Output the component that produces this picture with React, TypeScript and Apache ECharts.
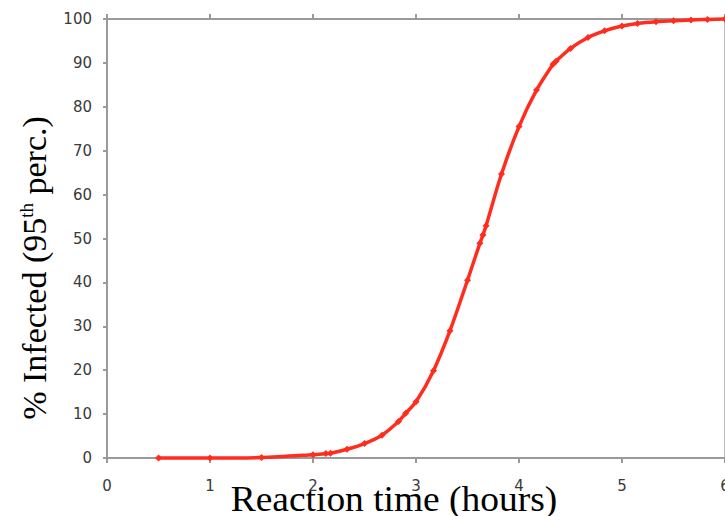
import React, { useEffect, useRef } from "react";
import * as echarts from "echarts";

const times = [0.5, 1.0, 1.5, 2.0, 2.125, 2.17, 2.33, 2.5, 2.67, 2.83, 2.9, 3.0, 3.17, 3.33, 3.5, 3.62, 3.65, 3.68, 3.83, 4.0, 4.17, 4.33, 4.36, 4.5, 4.67, 4.83, 5.0, 5.15, 5.33, 5.5, 5.67, 5.83, 6.0];
const infected = [0, 0, 0.1, 0.75, 1.0, 1.1, 2.0, 3.3, 5.2, 8.3, 10.2, 12.8, 19.9, 29, 40.5, 48.9, 50.8, 52.9, 64.7, 75.5, 83.8, 89.7, 90.4, 93.3, 95.8, 97.3, 98.4, 99.0, 99.4, 99.6, 99.8, 99.9, 100];
const xTitle = "Reaction time (hours)";
const yTitleParts = ["% Infected (95", "th", " perc.)"];

const axisGray = "#9a9a9a";
const labelStyle = { fontFamily: "DejaVu Sans", fontSize: 15, color: "#3a3a3a" };

export default function App() {
  const ref = useRef<HTMLDivElement>(null);
  useEffect(() => {
    document.body.style.margin = "0";
    const chart = echarts.init(ref.current!, null, { renderer: "svg" });
    const data = times.map((t, i) => [t, infected[i]]);
    chart.setOption({
      animation: false,
      backgroundColor: "#ffffff",
      grid: { left: 107, top: 19, right: 0, bottom: 58, outerBoundsMode: "none", containLabel: false },
      xAxis: [
        {
          type: "value", min: 0, max: 6, interval: 1, position: "bottom",
          axisLine: { show: true, onZero: false, lineStyle: { color: axisGray, width: 2 } },
          axisTick: { show: true, inside: false, length: 5, lineStyle: { color: axisGray, width: 2 } },
          axisLabel: { ...labelStyle, margin: 20 },
          splitLine: { show: false },
        },
        {
          type: "value", min: 0, max: 6, interval: 1, position: "top",
          axisLine: { show: true, onZero: false, lineStyle: { color: axisGray, width: 2 } },
          axisTick: { show: true, inside: false, length: 5, lineStyle: { color: axisGray, width: 2 } },
          axisLabel: { show: false },
          splitLine: { show: false },
        },
      ],
      yAxis: [
        {
          type: "value", min: 0, max: 100, interval: 10, position: "left",
          axisLine: { show: true, onZero: false, lineStyle: { color: axisGray, width: 2 } },
          axisTick: { show: true, inside: false, length: 4, lineStyle: { color: axisGray, width: 2 } },
          axisLabel: { ...labelStyle, margin: 15 },
          splitLine: { show: false },
        },
        {
          type: "value", min: 0, max: 100, interval: 10, position: "right",
          axisLine: { show: true, onZero: false, lineStyle: { color: "#bbbbbb", width: 2 } },
          axisTick: { show: false },
          axisLabel: { show: false },
          splitLine: { show: false },
        },
      ],
      series: [
        {
          type: "line",
          data,
          smooth: 0.3,
          symbol: "diamond",
          symbolSize: 7,
          showSymbol: true,
          lineStyle: { color: "#ff2d1e", width: 3.5 },
          itemStyle: { color: "#ff2d1e" },
          clip: false,
          z: 5,
        },
      ],
      graphic: [
        {
          type: "text",
          x: 394,
          y: 499,
          scaleX: 1.07,
          style: {
            text: xTitle,
            fontFamily: "Liberation Serif",
            fontSize: 35,
            fill: "#000",
            align: "center",
            verticalAlign: "middle",
          },
        },
        {
          type: "text",
          x: 34,
          y: 268,
          rotation: Math.PI / 2,
          style: {
            text: `{a|${yTitleParts[0]}}{s|${yTitleParts[1]}}{a|${yTitleParts[2]}}`,
            align: "center",
            verticalAlign: "middle",
            rich: {
              a: { fontFamily: "Liberation Serif", fontSize: 34, fill: "#000", color: "#000" },
              s: { fontFamily: "Liberation Serif", fontSize: 19, fill: "#000", color: "#000", verticalAlign: "top" },
            },
          },
        },
      ],
    });
    return () => chart.dispose();
  }, []);
  return <div ref={ref} style={{ width: 725, height: 516 }} />;
}
